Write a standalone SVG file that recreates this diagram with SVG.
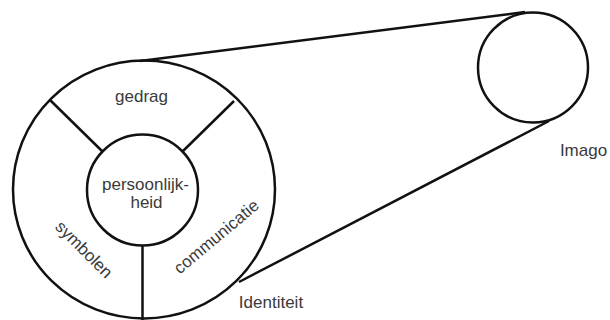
<svg xmlns="http://www.w3.org/2000/svg" width="610" height="320" viewBox="0 0 610 320">
<style>
.s{fill:none;stroke:#111;stroke-width:2.5}
.t{font-family:"Liberation Sans",Arial,sans-serif;font-size:17px;fill:#3a3a3a;text-anchor:middle}
</style>
<rect width="610" height="320" fill="#fff"/>
<g id="connectors">
<line class="s" x1="140" y1="61" x2="525" y2="12"/>
<line class="s" x1="239" y1="282" x2="549" y2="121"/>
</g>
<g id="identiteit">
<ellipse class="s" cx="144" cy="189.5" rx="131" ry="129"/>
<line class="s" x1="50" y1="100" x2="103" y2="152"/>
<line class="s" x1="234" y1="101" x2="182" y2="152"/>
<line class="s" x1="142.5" y1="246" x2="142.5" y2="322"/>
<text class="t" x="141.5" y="102">gedrag</text>
<text class="t" transform="translate(80,253.5) rotate(45)">symbolen</text>
<text class="t" transform="translate(220,241) rotate(-40)">communicatie</text>
<text class="t" x="271" y="308">Identiteit</text>
</g>
<g id="persoonlijkheid">
<circle class="s" cx="142.5" cy="190" r="55.5"/>
<text class="t" x="145.5" y="190">persoonlijk-</text>
<text class="t" x="146.5" y="208">heid</text>
</g>
<g id="imago">
<circle class="s" cx="533" cy="67.5" r="55"/>
<text class="t" x="583.5" y="156">Imago</text>
</g>
</svg>
